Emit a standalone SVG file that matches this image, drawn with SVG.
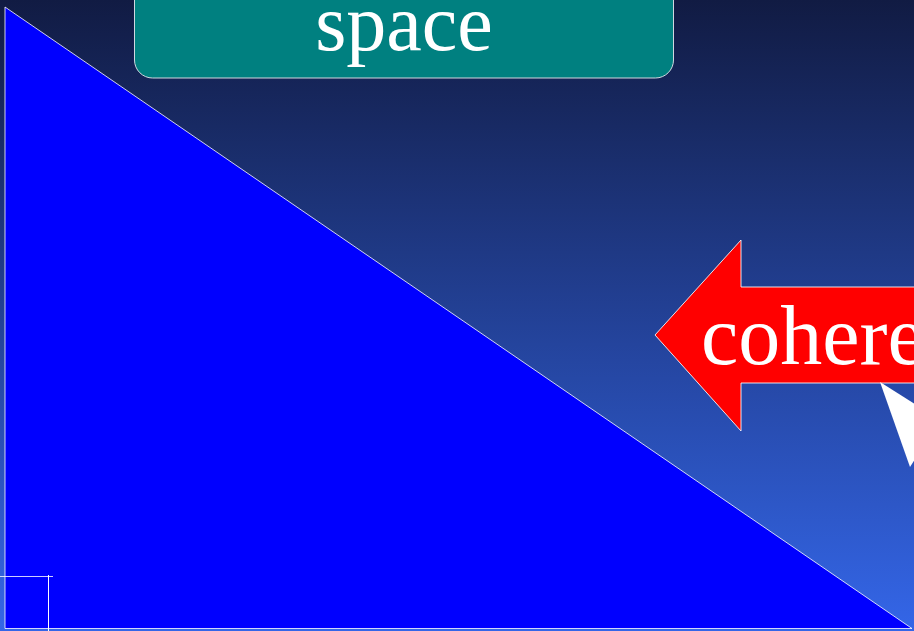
<svg xmlns="http://www.w3.org/2000/svg" width="914" height="631" viewBox="0 0 914 631">
  <defs>
    <linearGradient id="bg" x1="0" y1="0" x2="0" y2="1">
      <stop offset="0" stop-color="#111b43"/>
      <stop offset="1" stop-color="#3466e8"/>
    </linearGradient>
    <style>
      .lbl { font-family: "Liberation Serif", "Times New Roman", serif; fill: #ffffff; }
      .edge { stroke: #ffffff; stroke-width: 1; fill: none; }
    </style>
  </defs>
  <rect x="0" y="0" width="914" height="631" fill="url(#bg)"/>
  <g id="triangle">
    <polygon points="5,7 5,628.5 912,628.5" fill="#0000ff" stroke="#ffffff" stroke-opacity="0.8" stroke-width="1"/>
    <g id="right-angle">
      <line class="edge" x1="0" y1="576.5" x2="53" y2="576.5" stroke-opacity="0.8"/>
      <line class="edge" x1="48.5" y1="575" x2="48.5" y2="631"/>
    </g>
  </g>
  <g id="space-node">
    <rect x="134.5" y="-30" width="539" height="108" rx="18" ry="18" fill="#008080" stroke="#d0d8e0" stroke-width="1"/>
    <text class="lbl" x="404" y="50" font-size="80" text-anchor="middle">space</text>
  </g>
  <g id="coherence-arrow">
    <polygon points="655,335 741,240 741,287 930,287 930,383 741,383 741,431" fill="#ff0000" stroke="#ffffff" stroke-opacity="0.85" stroke-width="1"/>
    <text class="lbl" x="701" y="364" font-size="84">cohere</text>
  </g>
  <g id="connectors">
    <polygon points="880,382 940,420 910,467" fill="#ffffff"/>
  </g>
</svg>
